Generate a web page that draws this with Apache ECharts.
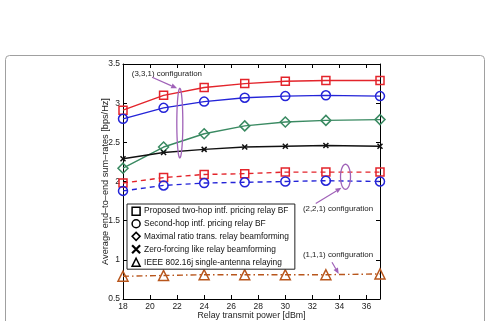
<!DOCTYPE html>
<html>
<head>
<meta charset="utf-8">
<script src="https://cdn.jsdelivr.net/npm/echarts@6/dist/echarts.min.js"></script>
<style>
  html, body { margin: 0; padding: 0; background: #fff; }
  #chart { width: 485px; height: 321px; }
</style>
</head>
<body>
<div id="chart"></div>
<script>
// relay transmit power [dBm]
const powers = [18, 21, 24, 27, 30, 33, 37];
const xTicks = [18, 20, 22, 24, 26, 28, 30, 32, 34, 36];
const yTicks = [0.5, 1, 1.5, 2, 2.5, 3, 3.5];

// (3,3,1) configuration
const proposed331 = [2.91, 3.10, 3.20, 3.25, 3.28, 3.29, 3.29];
const secondHop331 = [2.80, 2.94, 3.02, 3.07, 3.09, 3.10, 3.09];
const mrt331 = [2.17, 2.44, 2.61, 2.71, 2.76, 2.78, 2.79];
const zf331 = [2.29, 2.37, 2.41, 2.44, 2.45, 2.46, 2.45];
// (2,2,1) configuration
const proposed221 = [1.98, 2.05, 2.09, 2.10, 2.12, 2.12, 2.12];
const secondHop221 = [1.88, 1.95, 1.98, 1.99, 2.00, 2.01, 2.00];
// (1,1,1) configuration
const ieee111 = [0.79, 0.80, 0.81, 0.81, 0.81, 0.81, 0.82];

const legendNames = [
  'Proposed two-hop intf. pricing relay BF',
  'Second-hop intf. pricing relay BF',
  'Maximal ratio trans. relay beamforming',
  'Zero-forcing like relay beamforming',
  'IEEE 802.16j single-antenna relaying'
];

const RED = '#e3242b';
const BLUE = '#2424d8';
const GREEN = '#3a8a62';
const BROWN = '#b8561c';
const PURPLE = '#a062b8';
const X_PATH = 'path://M0,0L10,10M10,0L0,10';

function pairs(vals) {
  return powers.map((p, i) => [p, vals[i]]);
}

function lineSeries(name, vals, color, symbol, size, type) {
  return {
    name: name,
    type: 'line',
    data: pairs(vals),
    symbol: symbol,
    symbolSize: size,
    lineStyle: { color: color, width: 1.4, type: type || 'solid' },
    itemStyle: { color: 'transparent', borderColor: color, borderWidth: 1.5 },
    emphasis: { disabled: true },
    z: 3
  };
}

const series = [
  lineSeries(legendNames[0], proposed331, RED, 'rect', 8),
  lineSeries(legendNames[1], secondHop331, BLUE, 'circle', 9),
  lineSeries(legendNames[2], mrt331, GREEN, 'diamond', 10),
  lineSeries(legendNames[3], zf331, '#111', X_PATH, 5),
  lineSeries(legendNames[0], proposed221, RED, 'rect', 8, [5, 4]),
  lineSeries(legendNames[1], secondHop221, BLUE, 'circle', 9, [5, 4]),
  lineSeries(legendNames[4], ieee111, BROWN, 'triangle', 10, [6, 3, 1.5, 3])
];

const axisText = { color: '#222', fontSize: 8.5, fontFamily: 'Liberation Sans' };

const option = {
  animation: false,
  grid: { left: 123, right: 105, top: 64, bottom: 22, show: false, outerBoundsMode: 'none' },
  xAxis: [
    {
      type: 'value', min: 18, max: 37, interval: 2,
      name: 'Relay transmit power [dBm]', nameLocation: 'middle', nameGap: 12, nameMoveOverlap: false,
      nameTextStyle: { color: '#222', fontSize: 8.8, fontFamily: 'Liberation Sans' },
      axisLine: { lineStyle: { color: '#000', width: 1 } },
      axisTick: { inside: true, length: 4, lineStyle: { color: '#000' } },
      axisLabel: Object.assign({ margin: 3, showMaxLabel: false }, axisText),
      splitLine: { show: false }
    },
    {
      type: 'value', min: 18, max: 37, interval: 2, position: 'top',
      axisLine: { lineStyle: { color: '#000', width: 1 } },
      axisTick: { inside: true, length: 4, lineStyle: { color: '#000' } },
      axisLabel: { show: false },
      splitLine: { show: false }
    }
  ],
  yAxis: [
    {
      type: 'value', min: 0.5, max: 3.5, interval: 0.5,
      name: 'Average end\u2013to\u2013end sum\u2013rates [bps/Hz]', nameLocation: 'middle', nameGap: 13, nameMoveOverlap: false,
      nameTextStyle: { color: '#222', fontSize: 9.2, fontFamily: 'Liberation Sans' },
      axisLine: { show: true, lineStyle: { color: '#000', width: 1 } },
      axisTick: { show: true, inside: true, length: 4, lineStyle: { color: '#000' } },
      axisLabel: Object.assign({ margin: 3 }, axisText),
      splitLine: { show: false }
    },
    {
      type: 'value', min: 0.5, max: 3.5, interval: 0.5, position: 'right',
      axisLine: { show: true, lineStyle: { color: '#000', width: 1 } },
      axisTick: { show: true, inside: true, length: 4, lineStyle: { color: '#000' } },
      axisLabel: { show: false },
      splitLine: { show: false }
    }
  ],
  legend: {
    orient: 'vertical',
    left: 127, top: 204,
    padding: [2.4, 6, 2.2, 4],
    itemWidth: 8, itemHeight: 8, itemGap: 3.1,
    borderColor: '#222', borderWidth: 1,
    backgroundColor: '#fff',
    selectedMode: false,
    itemStyle: { color: 'transparent', borderColor: '#000', borderWidth: 1.5 },
    textStyle: { color: '#111', fontSize: 8.4, lineHeight: 9, fontFamily: 'Liberation Sans', padding: [0, 0, 0, -1] },
    data: [
      { name: legendNames[0], icon: 'rect' },
      { name: legendNames[1], icon: 'circle' },
      { name: legendNames[2], icon: 'diamond' },
      { name: legendNames[3], icon: X_PATH, itemStyle: { borderWidth: 2.2 } },
      { name: legendNames[4], icon: 'triangle' }
    ]
  },
  series: series
};

const chart = echarts.init(document.getElementById('chart'));
chart.setOption(option);

// annotations, anchored in data coordinates
function px(x, y) {
  return chart.convertToPixel({ xAxisIndex: 0, yAxisIndex: 0 }, [x, y]);
}

function ellipse(cx, yTop, yBottom, rx) {
  const top = px(cx, yTop);
  const bot = px(cx, yBottom);
  const c = [top[0], (top[1] + bot[1]) / 2];
  const ry = (bot[1] - top[1]) / 2;
  const pts = [];
  for (let i = 0; i < 48; i++) {
    const t = i / 48 * Math.PI * 2;
    pts.push([c[0] + rx * Math.cos(t), c[1] + ry * Math.sin(t)]);
  }
  return {
    type: 'polygon', shape: { points: pts }, silent: true,
    style: { fill: 'none', stroke: PURPLE, lineWidth: 1.3 }, z: 10
  };
}

function arrow(from, to) {
  const a = px(from[0], from[1]);
  const b = px(to[0], to[1]);
  const ang = Math.atan2(b[1] - a[1], b[0] - a[0]);
  const len = 6, w = 2.5;
  const base = [b[0] - len * Math.cos(ang), b[1] - len * Math.sin(ang)];
  const head = [
    b,
    [base[0] + w * Math.sin(ang), base[1] - w * Math.cos(ang)],
    [base[0] - w * Math.sin(ang), base[1] + w * Math.cos(ang)]
  ];
  return [
    { type: 'line', shape: { x1: a[0], y1: a[1], x2: base[0], y2: base[1] }, silent: true,
      style: { stroke: PURPLE, lineWidth: 1.2 }, z: 10 },
    { type: 'polygon', shape: { points: head }, silent: true,
      style: { fill: PURPLE }, z: 10 }
  ];
}

function label(x, y, text) {
  const p = px(x, y);
  return {
    type: 'text', x: p[0], y: p[1], silent: true, z: 10,
    style: { text: text, fill: '#222', fontSize: 7.9, fontFamily: 'Liberation Sans', verticalAlign: 'middle' }
  };
}

const graphics = [
  {
    type: 'rect', left: 3, top: 53, silent: true, z: -1,
    shape: { width: 479, height: 290, r: 4 },
    style: { fill: 'none', stroke: '#a0a0a0', lineWidth: 1 }
  },
  ellipse(22.2, 3.19, 2.30, 3),
  label(18.65, 3.37, '(3,3,1) configuration'),
  ellipse(34.45, 2.22, 1.90, 5),
  label(31.3, 1.65, '(2,2,1) configuration'),
  label(31.3, 1.07, '(1,1,1) configuration')
]
  .concat(arrow([20.15, 3.33], [22.0, 3.19]))
  .concat(arrow([32.25, 1.72], [34.15, 1.92]))
  .concat(arrow([33.45, 0.97], [33.95, 0.82]));

chart.setOption({ graphic: graphics });
</script>
</body>
</html>
